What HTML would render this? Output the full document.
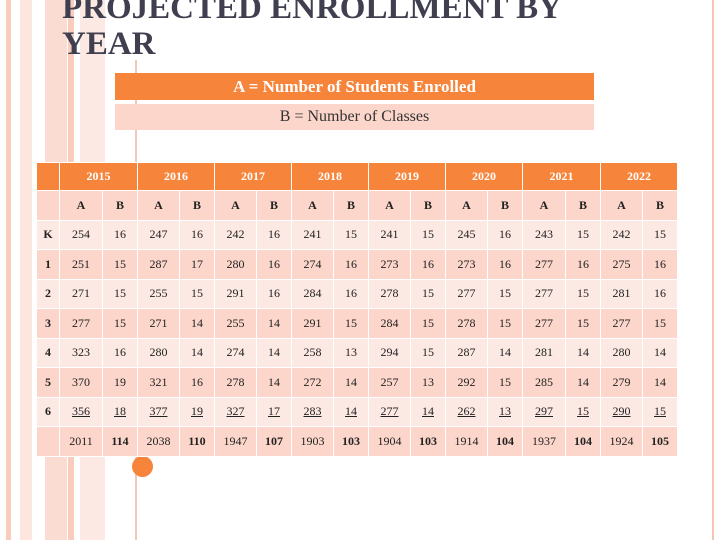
<!DOCTYPE html>
<html><head><meta charset="utf-8"><style>
body{margin:0;width:720px;height:540px;background:#fff;position:relative;overflow:hidden;font-family:"Liberation Serif",serif}
.ab{position:absolute}
table{position:absolute;left:36px;top:162px;border-collapse:collapse;font-size:12px;color:#222}
td{border:1px solid #fff;text-align:center;padding:0;height:28.5px}
tr.h td{background:#f6843b;color:#fff;font-weight:bold;height:27px}
tr.p td{background:#fcd6ca}
tr.l td{background:#fde9e3}
td.lab{font-weight:bold}
tr.u td:not(.lab){text-decoration:underline}
tr.t td:nth-child(odd):not(:first-child){font-weight:bold}
</style></head><body>
<div class="ab" style="left:6px;top:0;width:5px;height:540px;background:#f8cdbd"></div>
<div class="ab" style="left:20px;top:0;width:12px;height:540px;background:#fde6de"></div>
<div class="ab" style="left:45px;top:0;width:22px;height:540px;background:#fbdcd2"></div>
<div class="ab" style="left:68px;top:0;width:6px;height:540px;background:#f8cdbd"></div>
<div class="ab" style="left:80px;top:0;width:25px;height:540px;background:#fde9e3"></div>
<div class="ab" style="left:712px;top:0;width:2px;height:540px;background:#f6c4b3"></div>
<div class="ab" style="left:135px;top:60px;width:2px;height:480px;background:#f0c9bc"></div>
<div class="ab" style="left:132px;top:456px;width:21px;height:21px;border-radius:50%;background:#f6843b"></div>
<div class="ab" style="left:62px;top:-10px;font-size:33px;font-weight:bold;line-height:36px;color:#3f3f4f;white-space:nowrap">PROJECTED ENROLLMENT BY<br>YEAR</div>
<div class="ab" style="left:115px;top:73px;width:479px;height:27px;background:#f6843b;color:#fff;font-size:17px;font-weight:bold;text-align:center;line-height:27px">A = Number of Students Enrolled</div>
<div class="ab" style="left:115px;top:104px;width:479px;height:26px;background:#fcd6ca;color:#333;font-size:16px;text-align:center;line-height:26px">B = Number of Classes</div>
<table>
<colgroup><col style="width:23px"><col style="width:43px"><col style="width:35px"><col style="width:42px"><col style="width:35px"><col style="width:42px"><col style="width:35px"><col style="width:42px"><col style="width:35px"><col style="width:42px"><col style="width:35px"><col style="width:42px"><col style="width:35px"><col style="width:43px"><col style="width:35px"><col style="width:42px"><col style="width:35px"></colgroup>
<tr class="h"><td></td><td colspan="2">2015</td><td colspan="2">2016</td><td colspan="2">2017</td><td colspan="2">2018</td><td colspan="2">2019</td><td colspan="2">2020</td><td colspan="2">2021</td><td colspan="2">2022</td></tr>
<tr class="p" style="font-weight:bold"><td></td><td>A</td><td>B</td><td>A</td><td>B</td><td>A</td><td>B</td><td>A</td><td>B</td><td>A</td><td>B</td><td>A</td><td>B</td><td>A</td><td>B</td><td>A</td><td>B</td></tr>
<tr class="l"><td class="lab">K</td><td>254</td><td>16</td><td>247</td><td>16</td><td>242</td><td>16</td><td>241</td><td>15</td><td>241</td><td>15</td><td>245</td><td>16</td><td>243</td><td>15</td><td>242</td><td>15</td></tr>
<tr class="p"><td class="lab">1</td><td>251</td><td>15</td><td>287</td><td>17</td><td>280</td><td>16</td><td>274</td><td>16</td><td>273</td><td>16</td><td>273</td><td>16</td><td>277</td><td>16</td><td>275</td><td>16</td></tr>
<tr class="l"><td class="lab">2</td><td>271</td><td>15</td><td>255</td><td>15</td><td>291</td><td>16</td><td>284</td><td>16</td><td>278</td><td>15</td><td>277</td><td>15</td><td>277</td><td>15</td><td>281</td><td>16</td></tr>
<tr class="p"><td class="lab">3</td><td>277</td><td>15</td><td>271</td><td>14</td><td>255</td><td>14</td><td>291</td><td>15</td><td>284</td><td>15</td><td>278</td><td>15</td><td>277</td><td>15</td><td>277</td><td>15</td></tr>
<tr class="l"><td class="lab">4</td><td>323</td><td>16</td><td>280</td><td>14</td><td>274</td><td>14</td><td>258</td><td>13</td><td>294</td><td>15</td><td>287</td><td>14</td><td>281</td><td>14</td><td>280</td><td>14</td></tr>
<tr class="p"><td class="lab">5</td><td>370</td><td>19</td><td>321</td><td>16</td><td>278</td><td>14</td><td>272</td><td>14</td><td>257</td><td>13</td><td>292</td><td>15</td><td>285</td><td>14</td><td>279</td><td>14</td></tr>
<tr class="l u"><td class="lab">6</td><td>356</td><td>18</td><td>377</td><td>19</td><td>327</td><td>17</td><td>283</td><td>14</td><td>277</td><td>14</td><td>262</td><td>13</td><td>297</td><td>15</td><td>290</td><td>15</td></tr>
<tr class="p t"><td></td><td>2011</td><td>114</td><td>2038</td><td>110</td><td>1947</td><td>107</td><td>1903</td><td>103</td><td>1904</td><td>103</td><td>1914</td><td>104</td><td>1937</td><td>104</td><td>1924</td><td>105</td></tr>
</table>
</body></html>
